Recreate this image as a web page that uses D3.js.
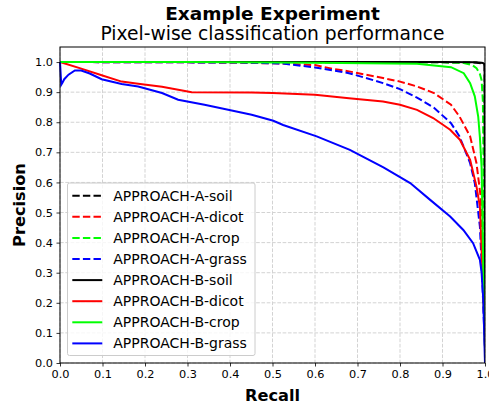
<!DOCTYPE html>
<html>
<head>
<meta charset="utf-8">
<script src="https://cdnjs.cloudflare.com/ajax/libs/d3/7.8.5/d3.min.js"></script>
<style>
  body { margin: 0; background: white; }
  svg { display: block; font-family: "DejaVu Sans", sans-serif; }
</style>
</head>
<body>
<svg id="chart"></svg>
<script>
// values
var seriesNames = ["APPROACH-A-soil", "APPROACH-A-dicot", "APPROACH-A-crop", "APPROACH-A-grass",
                   "APPROACH-B-soil", "APPROACH-B-dicot", "APPROACH-B-crop", "APPROACH-B-grass"];
var seriesColors = ["#000000", "#ff0000", "#00ff00", "#0000ff", "#000000", "#ff0000", "#00ff00", "#0000ff"];
var seriesDashed = [true, true, true, true, false, false, false, false];

var recallAsoil = [0, 0.5, 0.9, 0.98, 0.995, 0.999, 1.0];
var precisionAsoil = [1.0, 1.0, 0.999, 0.998, 0.995, 0.99, 0.0];

var recallAdicot = [0, 0.3, 0.45, 0.52, 0.6, 0.64, 0.68, 0.76, 0.8, 0.84, 0.88, 0.92, 0.94, 0.965, 0.98, 0.99, 0.995, 0.998, 1.0];
var precisionAdicot = [1.0, 0.999, 0.997, 0.995, 0.99, 0.978, 0.969, 0.947, 0.935, 0.919, 0.897, 0.858, 0.819, 0.753, 0.664, 0.55, 0.35, 0.2, 0.1];

var recallAcrop = [0, 0.5, 0.9, 0.95, 0.97, 0.98, 0.988, 0.992, 0.995, 0.997, 1.0];
var precisionAcrop = [1.0, 1.0, 0.999, 0.997, 0.99, 0.98, 0.96, 0.94, 0.87, 0.6, 0.2];

var recallAgrass = [0, 0.3, 0.45, 0.525, 0.6, 0.68, 0.72, 0.76, 0.8, 0.84, 0.88, 0.92, 0.94, 0.965, 0.976, 0.988, 0.993, 0.997, 1.0];
var precisionAgrass = [1.0, 0.999, 0.998, 0.995, 0.982, 0.963, 0.947, 0.93, 0.91, 0.882, 0.848, 0.797, 0.753, 0.664, 0.598, 0.453, 0.3, 0.15, 0.05];

var recallBsoil = [0, 0.5, 0.9, 0.98, 0.995, 0.999, 1.0];
var precisionBsoil = [1.0, 1.0, 1.0, 0.999, 0.997, 0.993, 0.0];

var recallBdicot = [0, 0.05, 0.098, 0.145, 0.184, 0.24, 0.31, 0.45, 0.5, 0.6, 0.68, 0.76, 0.8, 0.84, 0.878, 0.918, 0.941, 0.965, 0.98, 0.988, 0.994, 0.998, 1.0];
var precisionBdicot = [1.0, 0.978, 0.956, 0.935, 0.928, 0.918, 0.9, 0.899, 0.897, 0.891, 0.88, 0.869, 0.858, 0.841, 0.814, 0.775, 0.742, 0.675, 0.586, 0.52, 0.3, 0.15, 0.05];

var recallBcrop = [0, 0.3, 0.6, 0.84, 0.92, 0.95, 0.965, 0.976, 0.984, 0.988, 0.992, 0.995, 0.997, 1.0];
var precisionBcrop = [1.0, 1.0, 0.998, 0.994, 0.983, 0.963, 0.93, 0.886, 0.819, 0.75, 0.65, 0.4, 0.2, 0.05];

var recallBgrass = [0, 0.003, 0.006, 0.01, 0.02, 0.035, 0.05, 0.07, 0.098, 0.145, 0.184, 0.24, 0.278, 0.34, 0.404, 0.451, 0.502, 0.525, 0.604, 0.682, 0.761, 0.824, 0.871, 0.918, 0.949, 0.972, 0.988, 0.992, 0.996, 1.0];
var precisionBgrass = [1.0, 0.925, 0.932, 0.943, 0.958, 0.972, 0.972, 0.962, 0.943, 0.927, 0.919, 0.897, 0.875, 0.858, 0.839, 0.825, 0.805, 0.791, 0.753, 0.708, 0.65, 0.598, 0.542, 0.487, 0.442, 0.398, 0.343, 0.3, 0.21, 0.0];

var recallLists = [recallAsoil, recallAdicot, recallAcrop, recallAgrass, recallBsoil, recallBdicot, recallBcrop, recallBgrass];
var precisionLists = [precisionAsoil, precisionAdicot, precisionAcrop, precisionAgrass, precisionBsoil, precisionBdicot, precisionBcrop, precisionBgrass];

var tickValues = [0, 0.1, 0.2, 0.3, 0.4, 0.5, 0.6, 0.7, 0.8, 0.9, 1.0];

var drawChart = function() {
  var margin = {top: 47, right: 4, bottom: 42, left: 60},
      totalWidth = 489, totalHeight = 405,
      width = totalWidth - margin.left - margin.right,
      height = totalHeight - margin.top - margin.bottom;

  var svg = d3.select("#chart")
      .attr("width", totalWidth)
      .attr("height", totalHeight);

  var x = d3.scaleLinear().domain([0, 1]).range([0, width]);
  var y = d3.scaleLinear().domain([0, 1.05]).range([height, 0]);

  var g = svg.append("g")
      .attr("transform", "translate(" + margin.left + "," + margin.top + ")");

  // grid
  g.append("g").selectAll("line")
    .data(tickValues).enter()
    .append("line")
    .attr("x1", function(d){ return x(d); })
    .attr("x2", function(d){ return x(d); })
    .attr("y1", 0).attr("y2", height)
    .attr("stroke", "#d3d3d3").attr("stroke-width", 1)
    .attr("stroke-dasharray", "3.7,1.6");
  g.append("g").selectAll("line")
    .data(tickValues).enter()
    .append("line")
    .attr("y1", function(d){ return y(d); })
    .attr("y2", function(d){ return y(d); })
    .attr("x1", 0).attr("x2", width)
    .attr("stroke", "#d3d3d3").attr("stroke-width", 1)
    .attr("stroke-dasharray", "3.7,1.6");

  var line = d3.line()
    .x(function(d){ return x(d[0]); })
    .y(function(d){ return y(d[1]); });

  g.append("defs").append("clipPath").attr("id", "clip")
    .append("rect").attr("x", -2).attr("width", width + 2).attr("height", height);

  var curves = g.append("g").attr("clip-path", "url(#clip)");
  seriesNames.forEach(function(name, i) {
    var pts = recallLists[i].map(function(r, j){ return [r, precisionLists[i][j]]; });
    curves.append("path")
      .datum(pts)
      .attr("d", line)
      .attr("fill", "none")
      .attr("stroke", seriesColors[i])
      .attr("stroke-width", 2)
      .attr("stroke-dasharray", seriesDashed[i] ? "7.4,3.2" : null);
  });

  // axes
  var bottomAxis = d3.axisBottom(x).tickValues(tickValues).tickFormat(d3.format(".1f"))
      .tickSizeInner(3.5).tickSizeOuter(0).tickPadding(3.5);
  var leftAxis = d3.axisLeft(y).tickValues(tickValues).tickFormat(d3.format(".1f"))
      .tickSizeInner(3.5).tickSizeOuter(0).tickPadding(3.5);

  var xa = g.append("g").attr("transform", "translate(0," + height + ")").call(bottomAxis);
  var ya = g.append("g").call(leftAxis);
  [xa, ya].forEach(function(a) {
    a.select(".domain").remove();
    a.selectAll("text").attr("font-family", "DejaVu Sans").attr("font-size", "11.3px").attr("fill", "#000");
    a.selectAll("line").attr("stroke", "#000").attr("stroke-width", 0.8);
  });

  // frame
  g.append("rect")
    .attr("x", 0).attr("y", 0)
    .attr("width", width).attr("height", height)
    .attr("fill", "none").attr("stroke", "#000").attr("stroke-width", 1);

  // legend
  var legend = g.append("g").attr("transform", "translate(7.5,136)");
  legend.append("rect")
    .attr("x", 0).attr("y", 0).attr("width", 187.5).attr("height", 172.5)
    .attr("rx", 2)
    .attr("fill", "white").attr("fill-opacity", 0.8)
    .attr("stroke", "#cccccc").attr("stroke-width", 1);
  var rows = legend.selectAll(".row")
    .data(seriesNames).enter()
    .append("g")
    .attr("transform", function(d, i){ return "translate(0," + (12.7 + i * 21.1) + ")"; });
  rows.append("line")
    .attr("x1", 4.8).attr("x2", 34.8).attr("y1", 0).attr("y2", 0)
    .attr("stroke", function(d, i){ return seriesColors[i]; })
    .attr("stroke-width", 2)
    .attr("stroke-dasharray", function(d, i){ return seriesDashed[i] ? "7.4,3.2" : null; });
  rows.append("text")
    .attr("x", 45.8).attr("y", 5)
    .attr("font-size", "14px")
    .text(function(d){ return d; });

  // titles
  svg.append("text")
    .attr("x", margin.left + width / 2).attr("y", 19.5)
    .attr("text-anchor", "middle")
    .attr("font-size", "18.5px").attr("font-weight", "bold")
    .text("Example Experiment");
  svg.append("text")
    .attr("x", margin.left + width / 2).attr("y", 39.5)
    .attr("text-anchor", "middle")
    .attr("font-size", "18.7px")
    .text("Pixel-wise classification performance");

  svg.append("text")
    .attr("x", margin.left + width / 2).attr("y", 401)
    .attr("text-anchor", "middle")
    .attr("font-size", "16.2px").attr("font-weight", "bold")
    .text("Recall");
  svg.append("text")
    .attr("text-anchor", "middle")
    .attr("transform", "translate(25," + (margin.top + height / 2) + ")rotate(-90)")
    .attr("font-size", "16.2px").attr("font-weight", "bold")
    .text("Precision");
};

drawChart();
</script>
</body>
</html>
